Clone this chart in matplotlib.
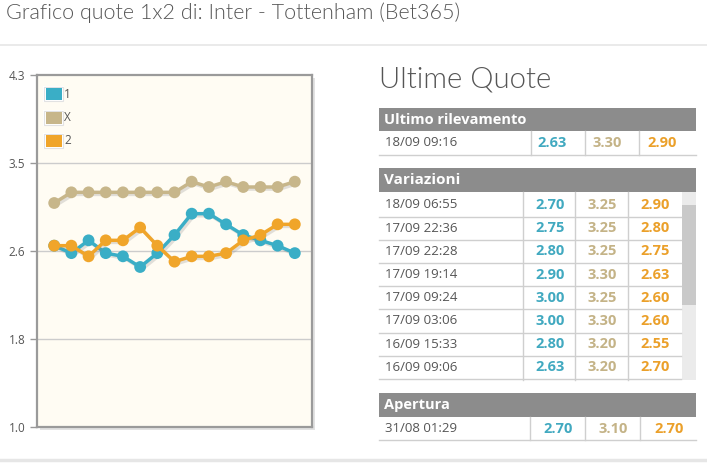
import matplotlib
matplotlib.use("Agg")
import matplotlib.pyplot as plt
from matplotlib.patches import Rectangle
from matplotlib.lines import Line2D
from matplotlib.transforms import Affine2D
import matplotlib.patheffects as pe

# ---------------- data ----------------
series_names = ["1", "X", "2"]
odds_1 = [2.70, 2.63, 2.75, 2.63, 2.60, 2.50, 2.63, 2.80, 3.00, 3.00, 2.90, 2.80, 2.75, 2.70, 2.63]
odds_x = [3.10, 3.20, 3.20, 3.20, 3.20, 3.20, 3.20, 3.20, 3.30, 3.25, 3.30, 3.25, 3.25, 3.25, 3.30]
odds_2 = [2.70, 2.70, 2.60, 2.75, 2.75, 2.87, 2.70, 2.55, 2.60, 2.60, 2.63, 2.75, 2.80, 2.90, 2.90]
y_ticks = [1.0, 1.825, 2.65, 3.475, 4.3]
y_tick_labels = ["1.0", "1.8", "2.6", "3.5", "4.3"]

title_text = "Grafico quote 1x2 di: Inter - Tottenham (Bet365)"
panel_title = "Ultime Quote"

last_header = "Ultimo rilevamento"
last_time = ["18/09 09:16"]
last_1 = ["2.63"]
last_x = ["3.30"]
last_2 = ["2.90"]

var_header = "Variazioni"
var_time = ["18/09 06:55", "17/09 22:36", "17/09 22:28", "17/09 19:14",
            "17/09 09:24", "17/09 03:06", "16/09 15:33", "16/09 09:06"]
var_1 = ["2.70", "2.75", "2.80", "2.90", "3.00", "3.00", "2.80", "2.63"]
var_x = ["3.25", "3.25", "3.25", "3.30", "3.25", "3.30", "3.20", "3.20"]
var_2 = ["2.90", "2.80", "2.75", "2.63", "2.60", "2.60", "2.55", "2.70"]

open_header = "Apertura"
open_time = ["31/08 01:29"]
open_1 = ["2.70"]
open_x = ["3.10"]
open_2 = ["2.70"]

# ---------------- style ----------------
C1 = "#3aaec6"
CX = "#c7b68a"
C2 = "#f0a52a"
T1 = "#41a9c0"
TX = "#c4b387"
T2 = "#eba02a"
GREY_TXT = "#555555"
HEADER = "#8c8c8c"
LINE = "#cfcfcf"
FONT = ["Open Sans", "DejaVu Sans"]
LIGHT = ["Lato", "DejaVu Sans"]
plt.rcParams["font.family"] = FONT

W, H = 707, 470
fig = plt.figure(figsize=(W / 100, H / 100), dpi=100)
fig.patch.set_facecolor("white")
tpx = Affine2D().scale(1 / W, -1 / H).translate(0, 1) + fig.transFigure


def rect(x0, y0, x1, y1, color, z=0):
    r = Rectangle((x0, y0), x1 - x0, y1 - y0, transform=tpx, facecolor=color,
                  edgecolor="none", zorder=z)
    fig.add_artist(r)


def hline(x0, x1, y, color=LINE, lw=1.0):
    fig.add_artist(Line2D([x0, x1], [y, y], transform=tpx, color=color, lw=lw))


def vline(x, y0, y1, color=LINE, lw=1.0):
    fig.add_artist(Line2D([x, x], [y0, y1], transform=tpx, color=color, lw=lw))


def txt(x, y, s, **kw):
    fig.text(x, y, s, transform=tpx, **kw)


# title + separators
txt(6, 13, title_text, fontsize=15.5, color=GREY_TXT, va="center", ha="left",
    family=LIGHT, fontweight=300)
hline(0, W, 45, color="#e6e6e6", lw=1.2)
hline(0, W, 460, color="#e6e6e6", lw=2.5)

# ---------------- chart ----------------
L, R, T, B = 37, 312, 75, 427
rect(L + 3, T + 3, R + 3, B + 3, "#e2e2e2", z=0)
ax = fig.add_axes([L / W, 1 - B / H, (R - L) / W, (B - T) / H])
ax.set_facecolor("#fffcf3")
xs = list(range(len(odds_1)))
shadow = [pe.SimpleLineShadow(offset=(1.5, -1.5), shadow_color="#888888", alpha=0.25), pe.Normal()]
for vals, col, z in [(odds_1, C1, 3), (odds_x, CX, 4), (odds_2, C2, 5)]:
    ax.plot(xs, vals, color=col, lw=2.5, marker="o", markersize=8.5,
            markeredgewidth=0, zorder=z, path_effects=shadow)
ax.set_xlim(-1, len(odds_1))
ax.set_ylim(y_ticks[0], y_ticks[-1])
ax.set_yticks(y_ticks)
ax.set_yticklabels(y_tick_labels)
ax.set_xticks([])
ax.tick_params(axis="y", length=5, width=1, color="#999999", labelsize=8.5,
               labelcolor=GREY_TXT, pad=3.5)
for v in y_ticks[1:-1]:
    ax.axhline(v, color="#cccccc", lw=1, zorder=1)
for s in ax.spines.values():
    s.set_color("#9a9a9a")
    s.set_linewidth(1.6)

# legend (manual)
leg_cols = [C1, CX, C2]
for i, (name, col) in enumerate(zip(series_names, leg_cols)):
    yc = 94 + 23.5 * i
    rect(43, yc - 8, 64, yc + 8, "white", z=5)
    r = Rectangle((44, yc - 7), 19, 14, transform=tpx, facecolor="none",
                  edgecolor="#e2e2e2", lw=0.8, zorder=6)
    fig.add_artist(r)
    rect(45.5, yc - 6, 61.5, yc + 6, col, z=7)
    txt(64, yc, name, fontsize=8.5, color=GREY_TXT, va="center", ha="left", zorder=8)

# ---------------- right panel ----------------
txt(379, 80, panel_title, fontsize=21.2, color=GREY_TXT, va="center", ha="left",
    family=LIGHT, fontweight=300)

TX0, TX1 = 379, 696


def values_row(yc, t, a, b, c, xs_vals, fs=9.5):
    txt(385, yc, t, fontsize=fs, color=GREY_TXT, va="center", ha="left")
    for s, xc, col in zip([a, b, c], xs_vals, [T1, TX, T2]):
        txt(xc, yc, s, fontsize=10.5, color=col, va="center", ha="center", fontweight="bold")


# Ultimo rilevamento
rect(TX0, 108, TX1, 131, HEADER)
txt(384, 119.5, last_header, fontsize=10.5, color="white", va="center", ha="left", fontweight="bold")
for x in [531, 585, 639]:
    vline(x, 131, 155)
hline(TX0, TX1, 155)
values_row(143, last_time[0], last_1[0], last_x[0], last_2[0], [552, 607, 662])

# Variazioni
rect(TX0, 168, TX1, 192, HEADER)
txt(384, 180, var_header, fontsize=11, color="white", va="center", ha="left", fontweight="bold")
rect(682, 192, TX1, 380, "#ebebeb")
rect(682, 205, TX1, 305, "#c9c9c9")
row_h = 23.2
for i in range(len(var_time)):
    yc = 205 + row_h * i
    values_row(yc, var_time[i], var_1[i], var_x[i], var_2[i], [550, 602, 655])
    hline(TX0, 681, yc + 11.6)
for x in [523, 575, 628]:
    vline(x, 192, 380)

# Apertura
rect(TX0, 393, TX1, 417, HEADER)
txt(384, 405, open_header, fontsize=10.5, color="white", va="center", ha="left", fontweight="bold")
for x in [530, 585, 640]:
    vline(x, 417, 440)
hline(TX0, TX1, 440)
values_row(429, open_time[0], open_1[0], open_x[0], open_2[0], [558, 613, 669])

fig.savefig("out.png", dpi=100)
